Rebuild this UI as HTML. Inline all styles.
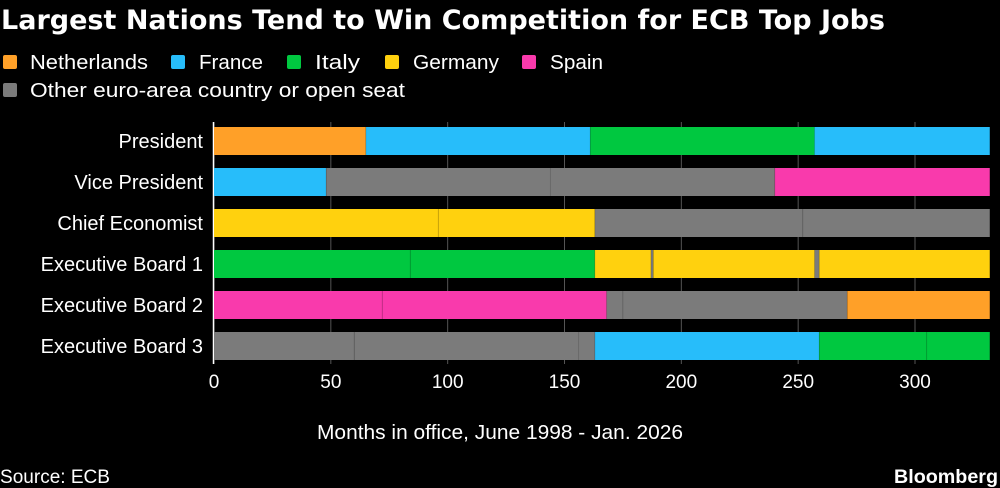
<!DOCTYPE html>
<html><head><meta charset="utf-8"><style>
html,body{margin:0;padding:0;background:#000;}
svg{display:block;font-family:"Liberation Sans Narrow","Liberation Sans",sans-serif;}
</style></head><body>
<svg id="chart" width="1000" height="488" viewBox="0 0 1000 488">
<rect width="1000" height="488" fill="#000"/>
<text x="1" y="29" fill="#fff" font-size="27" font-weight="bold" textLength="884" lengthAdjust="spacingAndGlyphs" font-family="'DejaVu Sans','Liberation Sans',sans-serif">Largest Nations Tend to Win Competition for ECB Top Jobs</text>
<g id="legend"></g>
<g id="grid"></g>
<g id="bars"></g>
<g id="ylabels"></g>
<g id="xticks"></g>
<text x="500" y="439" fill="#fff" font-size="20" text-anchor="middle" textLength="366" lengthAdjust="spacingAndGlyphs">Months in office, June 1998 - Jan. 2026</text>
<text x="0" y="483" fill="#fff" font-size="19" textLength="110" lengthAdjust="spacingAndGlyphs">Source: ECB</text>
<text x="998" y="483" fill="#fff" font-size="19" font-weight="bold" text-anchor="end" textLength="104" lengthAdjust="spacingAndGlyphs">Bloomberg</text>
</svg>
<script>
const NS="http://www.w3.org/2000/svg";
const countries=["Netherlands","France","Italy","Germany","Spain","Other euro-area country or open seat"];
const countryKeys=["nl","fr","it","de","es","other"];
const colors={nl:"#ffa028",fr:"#27bdfa",it:"#00c840",de:"#ffd10e",es:"#f93aac",other:"#7b7b7b"};
const roles=["President","Vice President","Chief Economist","Executive Board 1","Executive Board 2","Executive Board 3"];
const xTicks=[0,50,100,150,200,250,300];
// segments per role: [country, startMonth, endMonth]
const presidentSegs=[["nl",0,65],["fr",65,161],["it",161,257],["fr",257,332]];
const vpSegs=[["fr",0,48],["other",48,144],["other",144,240],["es",240,332]];
const chiefSegs=[["de",0,96],["de",96,163],["other",163,252],["other",252,332]];
const eb1Segs=[["it",0,84],["it",84,163],["de",163,187],["other",187,188],["de",188,257],["other",257,259],["de",259,332]];
const eb2Segs=[["es",0,72],["es",72,168],["other",168,175],["other",175,271],["nl",271,332]];
const eb3Segs=[["other",0,60],["other",60,156],["other",156,163],["fr",163,259],["it",259,305],["it",305,332]];
const allSegs=[presidentSegs,vpSegs,chiefSegs,eb1Segs,eb2Segs,eb3Segs];

const x0=214,pxPer=(915-214)/300;
const xs=v=>x0+v*pxPer;
const rowY=i=>127+i*41, barH=28;
function mk(tag,attrs,parent){const e=document.createElementNS(NS,tag);for(const k in attrs)e.setAttribute(k,attrs[k]);parent.appendChild(e);return e;}

// legend
const leg=document.getElementById("legend");
const legPos=[[3,30,62,118],[171,199,62,64],[287,315,62,45],[385,413,62,86],[522,550,62,53],[3,30,90,375]];
countries.forEach((c,i)=>{
  const p=legPos[i];
  const sq=mk("rect",{x:p[0],y:p[2]-7,width:14,height:14,rx:2,fill:colors[countryKeys[i]]},leg);
  
  
  const t=mk("text",{x:p[1],y:p[2]+7,fill:"#fff","font-size":20,textLength:p[3],lengthAdjust:"spacingAndGlyphs"},leg);
  t.textContent=c;
  
  
});

// grid
const grid=document.getElementById("grid");
xTicks.forEach(v=>{
  const l=mk("line",{x1:xs(v),x2:xs(v),y1:122,y2:364,stroke:"#555","stroke-width":1},grid);
  
  
});
const ax=mk("line",{x1:x0-0.5,x2:x0-0.5,y1:122,y2:364,stroke:"#fff","stroke-width":1.5},grid);



// bars
const bars=document.getElementById("bars");
allSegs.forEach((segs,i)=>{
  segs.forEach((s,j)=>{
    const r=mk("rect",{x:xs(s[1]),y:rowY(i),width:xs(s[2])-xs(s[1]),height:barH,fill:colors[s[0]]},bars);
    
    
    if(j>0){
      const d=mk("line",{x1:xs(s[1]),x2:xs(s[1]),y1:rowY(i),y2:rowY(i)+barH,stroke:"rgba(0,0,0,0.12)","stroke-width":1},bars);
      
      
    }
  });
});

// y labels
const yl=document.getElementById("ylabels");
roles.forEach((r,i)=>{
  const t=mk("text",{x:203,y:rowY(i)+barH/2+7,fill:"#fff","font-size":20,"text-anchor":"end"},yl);
  t.textContent=r;
  
  
});

// x ticks
const xt=document.getElementById("xticks");
xTicks.forEach(v=>{
  const t=mk("text",{x:xs(v),y:388,fill:"#fff","font-size":19,"text-anchor":"middle"},xt);
  t.textContent=v;
  
  
});
</script>
</body></html>
